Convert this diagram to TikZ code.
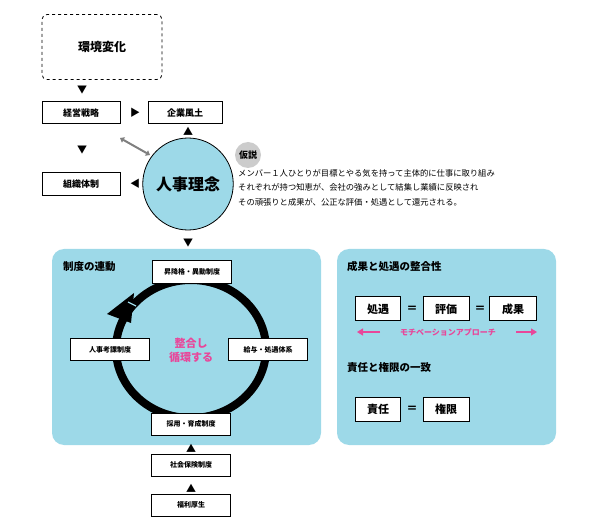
\documentclass[tikz,border=0pt]{standalone}
\usepackage{fontspec}
\setmainfont{Noto Sans CJK JP}
\usetikzlibrary{arrows.meta,shapes.geometric}
\definecolor{pblue}{HTML}{9DD9E8}
\definecolor{pink}{HTML}{E8479A}
\begin{document}
\begin{tikzpicture}[x=1pt,y=-1pt,
 bx/.style={draw,line width=1pt,fill=white,inner sep=0pt,font=\bfseries\fontsize{9}{10}\selectfont},
 sb/.style={draw,line width=1pt,fill=white,inner sep=0pt,font=\bfseries\fontsize{7}{8}\selectfont},
 tri/.style={font=\fontsize{10}{10}\selectfont,inner sep=0pt},
 ttl/.style={font=\bfseries\fontsize{10.5}{11}\selectfont,anchor=west,inner sep=0pt}]
\useasboundingbox (0,0) rectangle (600,529);
\node[draw,dashed,line width=0.8pt,rounded corners=5pt,minimum width=120pt,minimum height=65pt,font=\bfseries\fontsize{12}{13}\selectfont] (env) at (102,47) {環境変化};
\node[tri] (t1) at (82,90) {▼};
\node[bx,minimum width=78pt,minimum height=22pt] (sen) at (81,113) {経営戦略};
\node[tri] (t2) at (135,113) {▶};
\node[bx,minimum width=74pt,minimum height=22pt] (kig) at (185,113) {企業風土};
\node[tri] (t3) at (188,131) {▲};
\node[tri] (t4) at (82,150) {▼};
\node[bx,minimum width=78pt,minimum height=23pt] (sos) at (81,184) {組織体制};
\node[tri] (t5) at (135,184) {◀};
\node[draw,line width=0.8pt,fill=pblue,ellipse,minimum width=84pt,minimum height=92pt,inner sep=0pt,font=\bfseries\fontsize{16}{17}\selectfont] (rin) at (188,184) {人事理念};
\draw[gray,line width=2pt,{Triangle[length=4pt,width=6pt]}-{Triangle[length=4pt,width=6pt]}] (120,138) -- (150,155);
\node[circle,fill=black!20,minimum size=26pt,inner sep=0pt,font=\bfseries\fontsize{9}{10}\selectfont] (kas) at (248,155) {仮説};
\node[anchor=north west,align=left,inner sep=0pt,font=\fontsize{8.3}{14.5}\selectfont] (hyp) at (238,169) {メンバー１人ひとりが目標とやる気を持って主体的に仕事に取り組み\\それぞれが持つ知恵が、会社の強みとして結集し業績に反映され\\その頑張りと成果が、公正な評価・処遇として還元される。};
\node[tri] (t6) at (188,243) {▼};
\fill[pblue,rounded corners=12pt] (52,249) rectangle (321,445);
\fill[pblue,rounded corners=12pt] (337,249) rectangle (556,445);
\node[ttl] (lt) at (63,267) {制度の連動};
\draw[line width=8pt] (191,349) ellipse (75pt and 69pt);
\fill[black] (107,314) -- (134,293) -- (131,323) -- cycle;
\draw[pblue,line width=1.2pt] (128,302) -- (136,306);
\node[sb,minimum width=79pt,minimum height=23pt] (b1) at (192,272) {昇降格・異動制度};
\node[sb,minimum width=79pt,minimum height=22pt] (b2) at (110,350) {人事考課制度};
\node[sb,minimum width=79pt,minimum height=22pt] (b3) at (268,350) {給与・処遇体系};
\node[sb,minimum width=79pt,minimum height=22pt] (b4) at (191,424) {採用・育成制度};
\node[align=center,text=pink,inner sep=0pt,font=\bfseries\fontsize{11}{14}\selectfont] (mid) at (191,350) {整合し\\循環する};
\node[tri] (t7) at (191,448) {▲};
\node[sb,minimum width=79pt,minimum height=22pt] (b5) at (191,465) {社会保険制度};
\node[tri] (t8) at (191,488) {▲};
\node[sb,minimum width=79pt,minimum height=22pt] (b6) at (191,505) {福利厚生};
\node[ttl] (rt) at (347,267) {成果と処遇の整合性};
\node[bx,minimum width=45pt,minimum height=24pt,font=\bfseries\fontsize{11}{12}\selectfont] (s1) at (378,309) {処遇};
\node[font=\bfseries\fontsize{11}{11}\selectfont] (e1) at (412,309) {＝};
\node[bx,minimum width=46pt,minimum height=24pt,font=\bfseries\fontsize{11}{12}\selectfont] (s2) at (446,309) {評価};
\node[font=\bfseries\fontsize{11}{11}\selectfont] (e2) at (480,309) {＝};
\node[bx,minimum width=47pt,minimum height=24pt,font=\bfseries\fontsize{11}{12}\selectfont] (s3) at (513,309) {成果};
\node[text=pink,inner sep=0pt,font=\bfseries\fontsize{8}{9}\selectfont] (mot) at (448,332) {モチベーションアプローチ};
\coordinate (al) at (357,332); \coordinate (ar) at (537,332);
\draw[pink,line width=1.2pt,-{Triangle[length=6pt,width=7pt]}] (380,332) -- (al);
\draw[pink,line width=1.2pt,-{Triangle[length=6pt,width=7pt]}] (516,332) -- (ar);
\node[ttl] (rt2) at (347,368) {責任と権限の一致};
\node[bx,minimum width=45pt,minimum height=24pt,font=\bfseries\fontsize{11}{12}\selectfont] (r1) at (378,409) {責任};
\node[font=\bfseries\fontsize{11}{11}\selectfont] (e3) at (412,409) {＝};
\node[bx,minimum width=46pt,minimum height=24pt,font=\bfseries\fontsize{11}{12}\selectfont] (r2) at (446,409) {権限};
\end{tikzpicture}
\end{document}
